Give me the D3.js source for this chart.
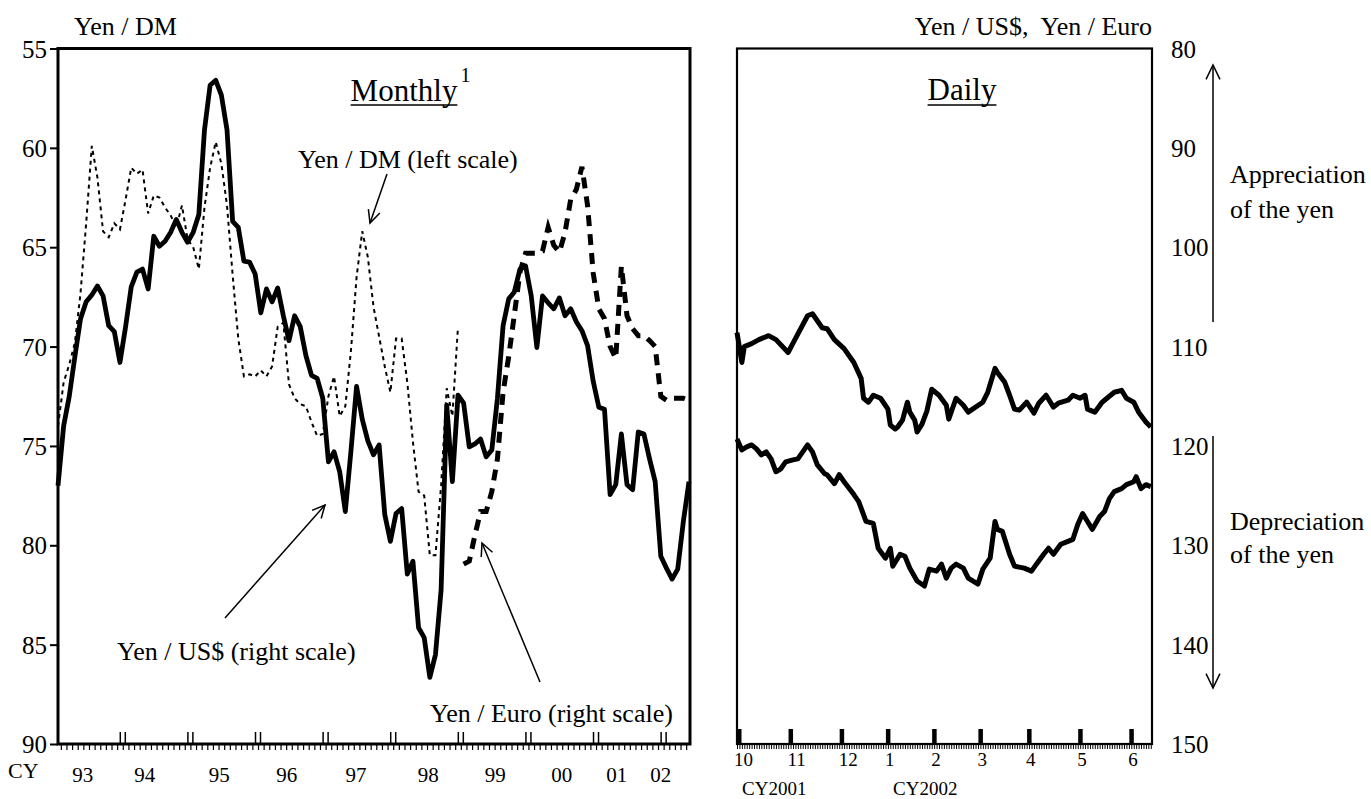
<!DOCTYPE html>
<html><head><meta charset="utf-8">
<script src="https://cdn.jsdelivr.net/npm/d3@7"></script>
<style>
html,body{margin:0;padding:0;background:#fff;}
svg{display:block;}
text{font-family:"Liberation Serif","Times New Roman",Times,serif;fill:#000;}
</style></head><body>
<svg id="chart" width="1371" height="799"></svg>
<script>
// ---------------- DATA ----------------
// Monthly series: month index 0 = Jan 1993
const usdMonthly = [
124.0,118.0,115.0,111.0,107.2,105.5,104.8,103.9,104.9,107.9,108.5,111.6,
108.0,104.0,102.5,102.2,104.2,98.9,99.9,99.4,98.5,97.2,98.5,99.5,
98.5,96.7,88.2,83.7,83.2,84.7,88.2,97.4,98.0,101.4,101.5,102.7,
106.6,104.2,105.5,104.1,106.9,109.4,106.9,108.0,110.9,112.9,113.2,115.2,
121.6,120.6,122.6,126.6,120.5,114.0,117.3,119.5,120.9,119.9,126.9,129.6,
126.8,126.3,132.9,131.6,138.3,139.3,143.3,141.0,134.5,115.9,123.6,114.9,
115.7,120.1,119.8,119.3,121.1,120.4,115.2,107.9,105.2,104.5,102.2,101.9,
104.9,110.1,104.9,105.6,106.2,105.1,106.9,106.2,107.5,108.4,109.9,113.5,
116.1,116.3,124.9,123.9,118.8,123.9,124.4,118.6,118.8,121.3,123.6,131.1,
132.3,133.4,132.4,127.6,123.6];
const dmMonthly = [
74.0,71.8,70.9,69.8,67.3,63.8,59.9,61.5,64.2,64.5,63.8,64.1,
62.6,61.0,61.3,61.1,63.3,62.4,62.5,63.0,63.4,64.0,62.9,64.6,
65.0,66.1,63.0,61.0,59.7,60.8,62.9,66.4,69.6,71.5,71.4,71.5,
71.2,71.5,71.0,69.0,68.8,71.9,72.6,72.9,73.0,73.8,74.5,74.4,
72.5,71.5,73.5,73.0,70.2,66.5,64.2,65.5,68.0,69.5,71.0,72.3,
69.6,69.6,71.8,74.8,77.3,77.5,80.5,80.5,77.0,72.1,73.5,69.0];
const euroStartMonth = 72; // Jan 1999
const euroMonthly = [
131.9,131.6,129.0,126.6,126.6,124.6,121.3,114.6,111.0,106.8,102.5,100.6,
100.6,100.6,100.4,98.0,99.8,100.5,98.5,95.2,94.2,91.9,95.8,102.6,
106.2,107.2,110.0,111.2,101.9,106.9,108.2,108.9,108.9,109.4,110.0,115.0,
115.4,115.2,115.2,115.2,115.4];
const yearLabels = ["93","94","95","96","97","98","99","00","01","02"];
const leftTicks = [55,60,65,70,75,80,85,90];
const rightTicks = [80,90,100,110,120,130,140,150];

// Daily series: business-day index 0 = 1 Oct 2001
const dailyMonthStarts = [0,22,43,62,81,100,120,141,162];
const dailyMonthLabels = ["10","11","12","1","2","3","4","5","6"];
const dailyEuroDays = [0,2,3,6,9,13,16,21,24,29,31,35,37,40,44,48,51,52,54,56,59,62,63,65,66,68,70,71,73,74,76,78,80,83,86,87,90,93,95,98,101,103,106,107,110,112,114,116,119,122,124,127,130,132,136,138,141,143,144,147,150,152,155,158,160,163,165,168,170];
const dailyEuro = [108.6,111.6,110.0,109.7,109.3,108.9,109.3,110.6,109.2,106.9,106.7,108.1,108.2,109.3,110.2,111.6,113.2,115.2,115.6,114.9,115.2,116.3,117.9,118.3,118.1,117.4,115.6,116.6,117.4,118.6,117.8,116.5,114.3,114.9,115.9,117.3,115.2,115.9,116.6,116.1,115.6,114.6,112.2,112.6,113.6,114.9,116.3,116.4,115.6,116.7,115.7,114.9,116.1,115.7,115.4,114.9,115.2,114.9,116.3,116.6,115.6,115.2,114.6,114.4,115.2,115.6,116.6,117.6,118.1];
const dailyUsdDays = [0,2,4,6,8,10,12,14,16,18,20,23,25,29,31,33,36,37,40,42,44,48,50,53,56,58,61,63,64,67,69,71,74,77,79,82,84,86,88,90,93,95,97,99,101,104,106,107,109,112,114,118,121,123,126,128,130,133,136,138,140,142,144,146,149,151,153,155,158,160,163,164,166,168,170];
const dailyUsd = [119.3,120.4,120.1,119.9,120.3,120.9,120.6,121.3,122.6,122.3,121.6,121.4,121.3,119.9,120.6,121.9,122.8,122.9,123.8,122.9,123.6,124.9,125.6,127.6,127.8,130.3,131.3,130.3,132.1,130.9,131.1,132.3,133.6,134.1,132.4,132.6,131.9,133.3,132.3,131.9,132.3,133.3,133.6,133.9,132.4,131.3,127.6,128.4,128.6,130.9,132.1,132.3,132.6,131.9,130.9,130.3,130.9,129.9,129.6,129.4,127.9,126.8,127.6,128.4,127.1,126.6,125.3,124.6,124.3,123.9,123.6,123.1,124.3,123.9,124.1];

// ---------------- LAYOUT ----------------
const W = 1371, H = 799;
const TOP = 48.5, BOT = 744;
const LX0 = 58, LX1 = 690, DX0 = 737, DX1 = 1152;
const svg = d3.select("#chart");
svg.append("rect").attr("width", W).attr("height", H).attr("fill", "#fff");

const yL = d3.scaleLinear().domain([55, 90]).range([TOP, BOT]);
const yR = d3.scaleLinear().domain([80, 150]).range([TOP, BOT]);
const xM = d3.scaleLinear().domain([0.5, 112.68]).range([LX0, LX1]);
const xD = d3.scaleLinear().domain([0, 170.5]).range([DX0, DX1]);

function txt(x, y, s, size, anchor) {
  return svg.append("text").attr("x", x).attr("y", y).attr("font-size", size)
    .attr("text-anchor", anchor || "start").style("white-space", "pre").text(s);
}
function arrow(x1, y1, x2, y2, len, sw) {
  len = len || 14; sw = sw || 1.5;
  const g = svg.append("g").attr("stroke", "#000").attr("stroke-width", sw).attr("fill", "none");
  g.append("line").attr("x1", x1).attr("y1", y1).attr("x2", x2).attr("y2", y2);
  const a = Math.atan2(y2 - y1, x2 - x1), h = 0.45;
  const p1 = [x2 - len * Math.cos(a - h), y2 - len * Math.sin(a - h)];
  const p2 = [x2 - len * Math.cos(a + h), y2 - len * Math.sin(a + h)];
  g.append("path").attr("d", `M${p1[0]},${p1[1]}L${x2},${y2}L${p2[0]},${p2[1]}`);
}

// ---------------- MONTHLY PANEL ----------------
const gM = svg.append("g");
// DM (left scale), thin dotted
gM.append("path").datum(dmMonthly)
  .attr("d", d3.line().x((d, i) => xM(i + 0.5)).y(d => yL(d)))
  .attr("fill", "none").attr("stroke", "#000").attr("stroke-width", 2)
  .attr("stroke-dasharray", "4,4");
// Euro (right scale), thick dashed
gM.append("path").datum(euroMonthly)
  .attr("d", d3.line().x((d, i) => xM(euroStartMonth + i + 0.5)).y(d => yR(d)))
  .attr("fill", "none").attr("stroke", "#000").attr("stroke-width", 5)
  .attr("stroke-dasharray", "11,8");
// US$ (right scale), thick solid
gM.append("path").datum(usdMonthly)
  .attr("d", d3.line().x((d, i) => xM(i + 0.5)).y(d => yR(d)))
  .attr("fill", "none").attr("stroke", "#000").attr("stroke-width", 4.8)
  .attr("stroke-linejoin", "round");

// frame
svg.append("rect").attr("x", LX0).attr("y", TOP).attr("width", LX1 - LX0).attr("height", BOT - TOP)
  .attr("fill", "none").attr("stroke", "#000").attr("stroke-width", 3);

// left axis
const axL = svg.append("g").attr("transform", `translate(${LX0},0)`)
  .call(d3.axisLeft(yL).tickValues(leftTicks).tickSize(8).tickPadding(3).tickSizeOuter(0));
axL.select(".domain").remove();
axL.selectAll("line").attr("stroke-width", 2);
axL.selectAll("text").attr("font-size", 25).attr("font-family", "Liberation Serif, Times New Roman, serif").attr("dy", "0.34em");

// bottom monthly axis: minor month ticks
const axB = svg.append("g").attr("transform", `translate(0,${BOT})`)
  .call(d3.axisBottom(xM).tickValues(d3.range(1, 113)).tickSize(6).tickFormat(""));
axB.select(".domain").remove();
axB.selectAll("line").attr("stroke-width", 1.2);
// year double ticks
const yearBounds = d3.range(1, 10).map(k => 12 * k);
yearBounds.forEach(m => {
  [-2.5, 2.5].forEach(off => {
    svg.append("line").attr("x1", xM(m) + off).attr("x2", xM(m) + off)
      .attr("y1", BOT).attr("y2", BOT - 12).attr("stroke", "#000").attr("stroke-width", 1.5);
  });
});
// year labels (placed in month units)
const yearLabelMonth = [4.9, 15.9, 29.1, 41.1, 53.4, 66.2, 78.1, 89.9, 99.7, 107.5];
yearLabels.forEach((s, k) => txt(xM(yearLabelMonth[k]), 782, s, 21, "middle"));
txt(8, 778, "CY", 22);

// labels
txt(74, 35, "Yen / DM", 26);
const mt = txt(404, 101, "Monthly", 31, "middle");
const mw = mt.node().getComputedTextLength();
svg.append("line").attr("x1", 404 - mw / 2).attr("x2", 404 + mw / 2).attr("y1", 105).attr("y2", 105)
  .attr("stroke", "#000").attr("stroke-width", 1.6);
txt(404 + mw / 2 + 3, 82, "1", 20);
txt(298, 168, "Yen / DM (left scale)", 26);
arrow(387, 174, 370, 223);
txt(117, 660, "Yen / US$ (right scale)", 26);
arrow(225, 618, 325, 505);
txt(430, 722, "Yen / Euro (right scale)", 26);
arrow(540, 682, 482, 543);

// ---------------- DAILY PANEL ----------------
const lineD = d3.line().x(d => xD(d[0])).y(d => yR(d[1]));
svg.append("path").datum(dailyEuroDays.map((d, i) => [d, dailyEuro[i]]))
  .attr("d", lineD).attr("fill", "none").attr("stroke", "#000").attr("stroke-width", 5)
  .attr("stroke-linejoin", "round");
svg.append("path").datum(dailyUsdDays.map((d, i) => [d, dailyUsd[i]]))
  .attr("d", lineD).attr("fill", "none").attr("stroke", "#000").attr("stroke-width", 5)
  .attr("stroke-linejoin", "round");

svg.append("rect").attr("x", DX0).attr("y", TOP).attr("width", DX1 - DX0).attr("height", BOT - TOP)
  .attr("fill", "none").attr("stroke", "#000").attr("stroke-width", 2.2);

// daily minor ticks (business days)
const axD = svg.append("g").attr("transform", `translate(0,${BOT})`)
  .call(d3.axisBottom(xD).tickValues(d3.range(0, 171)).tickSize(5).tickFormat(""));
axD.select(".domain").remove();
axD.selectAll("line").attr("stroke-width", 1);
// month major ticks
dailyMonthStarts.forEach((d, k) => {
  svg.append("rect").attr("x", xD(d) - (k === 0 ? 0 : 2)).attr("y", BOT - 15)
    .attr("width", 4.5).attr("height", 15).attr("fill", "#000");
  txt(xD(d) - 3, 766, dailyMonthLabels[k], 19);
});
txt(742, 795, "CY2001", 19);
txt(893, 795, "CY2002", 19);

// right axis labels
const axR = svg.append("g").attr("transform", `translate(${DX1},0)`)
  .call(d3.axisRight(yR).tickValues(rightTicks).tickSize(0).tickPadding(19));
axR.select(".domain").remove();
axR.selectAll("text").attr("font-size", 25).attr("font-family", "Liberation Serif, Times New Roman, serif").attr("dy", "0.34em");

txt(1152, 35, "Yen / US$,  Yen / Euro", 26, "end");
const dt = txt(962, 100, "Daily", 31, "middle");
const dw = dt.node().getComputedTextLength();
svg.append("line").attr("x1", 962 - dw / 2).attr("x2", 962 + dw / 2).attr("y1", 105).attr("y2", 105)
  .attr("stroke", "#000").attr("stroke-width", 1.6);

// appreciation / depreciation arrows
arrow(1213, 322, 1213, 65, 16, 1.5);
arrow(1213, 436, 1213, 688, 16, 1.5);
txt(1230, 183, "Appreciation", 26);
txt(1230, 218, "of the yen", 26);
txt(1230, 530, "Depreciation", 26);
txt(1230, 563, "of the yen", 26);
</script>
</body></html>
